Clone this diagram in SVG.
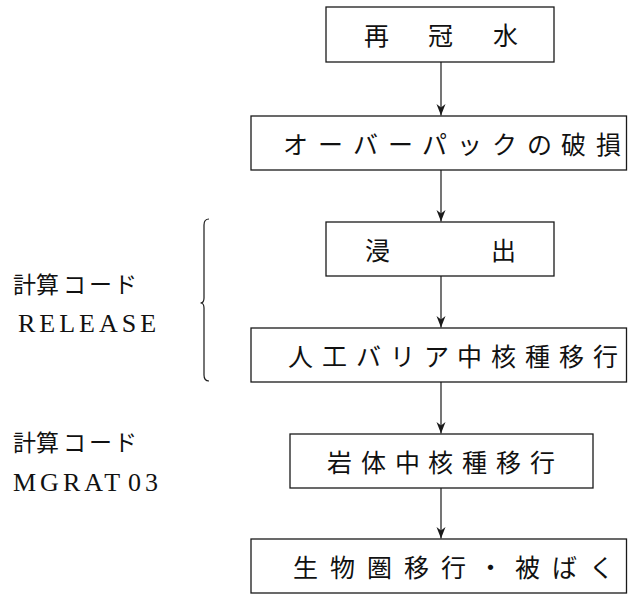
<svg xmlns="http://www.w3.org/2000/svg" width="628" height="595" viewBox="0 0 628 595">
<defs>
<style>
.box{fill:#fff;stroke:#1a1a1a;stroke-width:1.3}
.t{font-family:"Noto Sans CJK JP","Noto Sans CJK SC",sans-serif;font-size:25px;fill:#111}
.lbl{font-family:"Noto Sans CJK JP","Noto Sans CJK SC",sans-serif;font-size:23px;fill:#111}
.code{font-family:"Liberation Serif",serif;font-size:26px;fill:#111;letter-spacing:4px}
.conn{stroke:#1a1a1a;stroke-width:1.2;fill:none}
</style>
<marker id="ah" markerWidth="12" markerHeight="10" refX="11.5" refY="5" orient="auto" markerUnits="userSpaceOnUse" viewBox="0 0 12 10">
<path d="M0 0.5 L11.5 5 L0 9.5 L3.5 5 Z" fill="#1a1a1a"/>
</marker>
</defs>
<rect width="628" height="595" fill="#fff"/>
<g id="connectors">
<line class="conn" x1="441" y1="62" x2="441" y2="115.5" marker-end="url(#ah)"/>
<line class="conn" x1="441" y1="170" x2="441" y2="221.5" marker-end="url(#ah)"/>
<line class="conn" x1="441" y1="276" x2="441" y2="327.5" marker-end="url(#ah)"/>
<line class="conn" x1="441" y1="382" x2="441" y2="433.5" marker-end="url(#ah)"/>
<line class="conn" x1="441" y1="488" x2="441" y2="538.5" marker-end="url(#ah)"/>
</g>
<g id="node-saikansui">
<rect class="box" x="326" y="7" width="228" height="55"/>
<text class="t" x="364 428 493" y="45">再冠水</text>
</g>
<g id="node-overpack">
<rect class="box" x="251" y="116" width="375.5" height="54"/>
<text class="t" x="283 318 353 388 422 457 492 527 561 596" y="154">オーバーパックの破損</text>
</g>
<g id="node-leaching">
<rect class="box" x="326" y="222" width="228" height="54"/>
<text class="t" x="365 491" y="260">浸出</text>
</g>
<g id="node-ebs">
<rect class="box" x="251" y="328" width="375.5" height="54"/>
<text class="t" x="288 322 356 390 424 457 491 525 559 593" y="366">人工バリア中核種移行</text>
</g>
<g id="node-rock">
<rect class="box" x="290" y="434" width="303" height="54"/>
<text class="t" x="327 361 395 428 462 496 530" y="472">岩体中核種移行</text>
</g>
<g id="node-bio">
<rect class="box" x="251" y="539" width="375.5" height="54"/>
<text class="t" x="293 330 367 404 441 478 515 552 589" y="577">生物圏移行・被ばく</text>
</g>
<g id="bracket">
<path class="conn" d="M209 219 Q204 219 204 225 L204 298 Q204 303 200.5 303 Q204 303 204 308 L204 375 Q204 381 209 381"/>
</g>
<g id="label-release">
<text class="lbl" x="13 36 63 89 114" y="293">計算コード</text>
<text class="code" x="18" y="332">RELEASE</text>
</g>
<g id="label-mgrat">
<text class="lbl" x="13 36 63 89 114" y="451">計算コード</text>
<text class="code" x="13" y="491">MGRAT<tspan dx="4">03</tspan></text>
</g>
</svg>
